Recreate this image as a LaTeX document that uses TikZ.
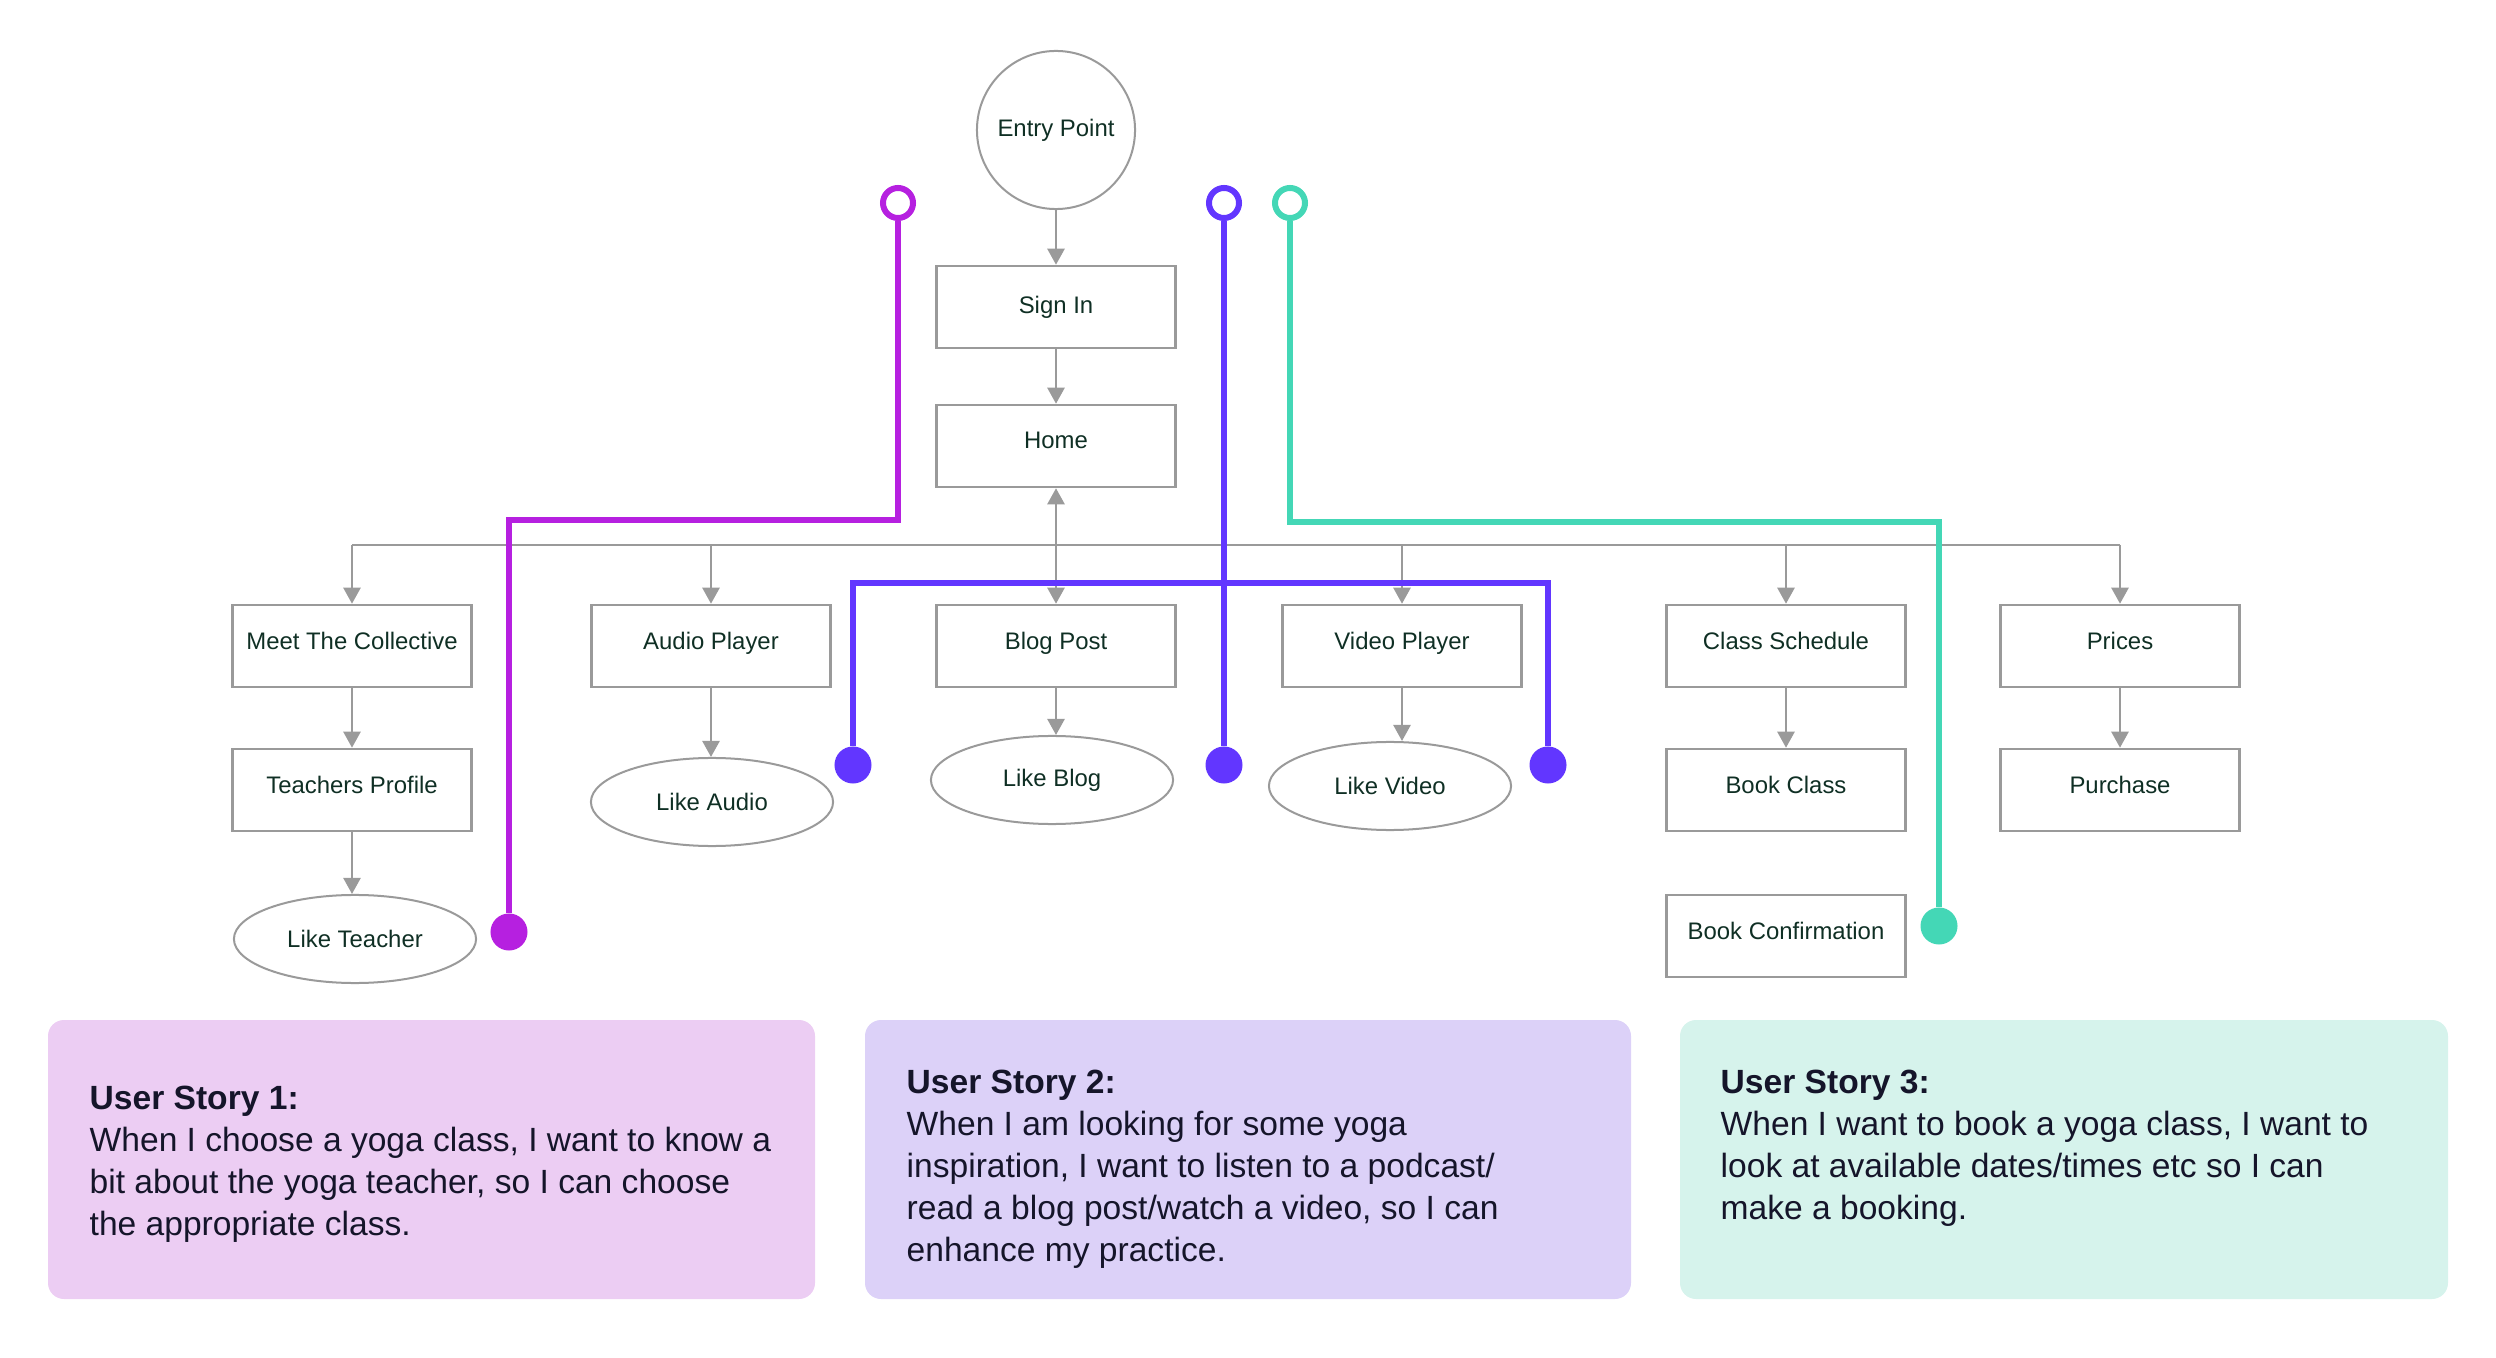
\documentclass[tikz,border=0pt]{standalone}
\usepackage{fontspec}
\setmainfont{Liberation Sans}
\usetikzlibrary{shapes.geometric,arrows.meta}
\definecolor{gline}{HTML}{9A9A9A}
\definecolor{ntext}{HTML}{0F2F24}
\definecolor{cmag}{HTML}{B620E0}
\definecolor{cvio}{HTML}{6236FF}
\definecolor{cteal}{HTML}{44D7B6}
\definecolor{bpink}{HTML}{ECCDF3}
\definecolor{blav}{HTML}{DCD1F8}
\definecolor{bmint}{HTML}{D6F3EC}
\definecolor{stext}{HTML}{15152A}
\begin{document}
\begin{tikzpicture}[x=0.01cm,y=-0.01cm,
  lbl/.style={text=ntext,font=\fontsize{6.8pt}{8pt}\selectfont},
  box/.style={lbl,draw=gline,line width=0.025cm,minimum width=2.39cm,minimum height=0.82cm,inner sep=0,text height=0.19cm,text depth=0.13cm},
  cbox/.style={lbl,draw=gline,line width=0.025cm,minimum width=2.39cm,minimum height=0.82cm,inner sep=0},
  oval/.style={lbl,ellipse,draw=gline,line width=0.02cm,minimum width=2.42cm,minimum height=0.88cm,inner sep=0},
  arr/.style={draw=gline,line width=0.025cm,-{Triangle[length=0.16cm,width=0.17cm]}},
  ring/.style={circle,draw=#1,line width=0.06cm,minimum size=0.30cm,inner sep=0},
  dot/.style={circle,fill=#1,minimum size=0.37cm,inner sep=0},
  trail/.style={draw=#1,line width=0.06cm,line join=miter},
  story/.style={rounded corners=0.16cm,fill=#1},
  stxt/.style={anchor=base west,inner sep=0,text=stext,font=\fontsize{9.55pt}{12pt}\selectfont},
  shead/.style={stxt,font=\fontsize{9.55pt}{12pt}\selectfont\bfseries}
]
\useasboundingbox (0,0) rectangle (2496,1358);

% story boxes
\path[story=bpink] (48,1020) rectangle (815,1299);
\path[story=blav] (865,1020) rectangle (1631,1299);
\path[story=bmint] (1680,1020) rectangle (2448,1299);

% flow nodes
\node[lbl,circle,draw=gline,line width=0.02cm,minimum size=1.58cm,inner sep=0] (entry) at (1056,130) {Entry Point};
\node[cbox] (signin) at (1056,307) {Sign In};
\node[box] (home) at (1056,446) {Home};
\node[box] (meet) at (352,646) {Meet The Collective};
\node[box] (teach) at (352,790) {Teachers Profile};
\node[oval] (liketeach) at (355,939) {Like Teacher};
\node[box] (audio) at (711,646) {Audio Player};
\node[oval] (likeaudio) at (712,802) {Like Audio};
\node[box] (blog) at (1056,646) {Blog Post};
\node[oval] (likeblog) at (1052,780) {Like Blog};
\node[box] (video) at (1402,646) {Video Player};
\node[oval] (likevideo) at (1390,786) {Like Video};
\node[box] (sched) at (1786,646) {Class Schedule};
\node[box] (bookclass) at (1786,790) {Book Class};
\node[box] (bookconf) at (1786,936) {Book Confirmation};
\node[box] (prices) at (2120,646) {Prices};
\node[box] (purchase) at (2120,790) {Purchase};

% gray connectors
\coordinate (busL) at (352,545);
\coordinate (busR) at (2120,545);
\draw[arr] (entry) -- (signin);
\draw[arr] (signin) -- (home);
\draw[draw=gline,line width=0.025cm] (busL) -- (busR);
\draw[arr] (meet.north |- busL) -- (meet.north);
\draw[arr] (audio.north |- busL) -- (audio.north);
\draw[arr] (video.north |- busL) -- (video.north);
\draw[arr] (sched.north |- busL) -- (sched.north);
\draw[arr] (prices.north |- busL) -- (prices.north);
\draw[arr,{Triangle[length=0.16cm,width=0.17cm]}-{Triangle[length=0.16cm,width=0.17cm]}] (home) -- (blog);
\draw[arr] (meet) -- (teach);
\draw[arr] (teach.south) -- (teach.south |- liketeach.north);
\draw[arr] (audio.south) -- (audio.south |- likeaudio.north);
\draw[arr] (blog.south) -- (blog.south |- likeblog.north);
\draw[arr] (video.south) -- (video.south |- likevideo.north);
\draw[arr] (sched) -- (bookclass);
\draw[arr] (prices) -- (purchase);

% user story trails
\node[ring=cmag] (r1) at (898,203) {};
\node[dot=cmag] (d1) at (509,932) {};
\coordinate (m1) at (898,520);
\draw[trail=cmag] (r1.south) -- (m1) -| (d1);

\node[ring=cvio] (r2) at (1224,203) {};
\node[dot=cvio] (d2m) at (1224,765) {};
\node[dot=cvio] (d2l) at (853,765) {};
\node[dot=cvio] (d2r) at (1548,765) {};
\coordinate (vbl) at (853,583);
\coordinate (vbr) at (1548,583);
\draw[trail=cvio] (r2.south) -- (d2m);
\draw[trail=cvio] (d2l) -- (vbl) -- (vbr) -- (d2r);

\node[ring=cteal] (r3) at (1290,203) {};
\node[dot=cteal] (d3) at (1939,926) {};
\coordinate (m3) at (1290,522);
\draw[trail=cteal] (r3.south) -- (m3) -| (d3);

% story texts
\node[shead] (s1h) at (89,1109) {User Story 1:};
\node[stxt] (s1a) at (89,1151) {When I choose a yoga class, I want to know a};
\node[stxt] (s1b) at (89,1193) {bit about the yoga teacher, so I can choose};
\node[stxt] (s1c) at (89,1235) {the appropriate class.};

\node[shead] (s2h) at (906,1093) {User Story 2:};
\node[stxt] (s2a) at (906,1135) {When I am looking for some yoga};
\node[stxt] (s2b) at (906,1177) {inspiration, I want to listen to a podcast/};
\node[stxt] (s2c) at (906,1219) {read a blog post/watch a video, so I can};
\node[stxt] (s2d) at (906,1261) {enhance my practice.};

\node[shead] (s3h) at (1720,1093) {User Story 3:};
\node[stxt] (s3a) at (1720,1135) {When I want to book a yoga class, I want to};
\node[stxt] (s3b) at (1720,1177) {look at available dates/times etc so I can};
\node[stxt] (s3c) at (1720,1219) {make a booking.};
\end{tikzpicture}
\end{document}
